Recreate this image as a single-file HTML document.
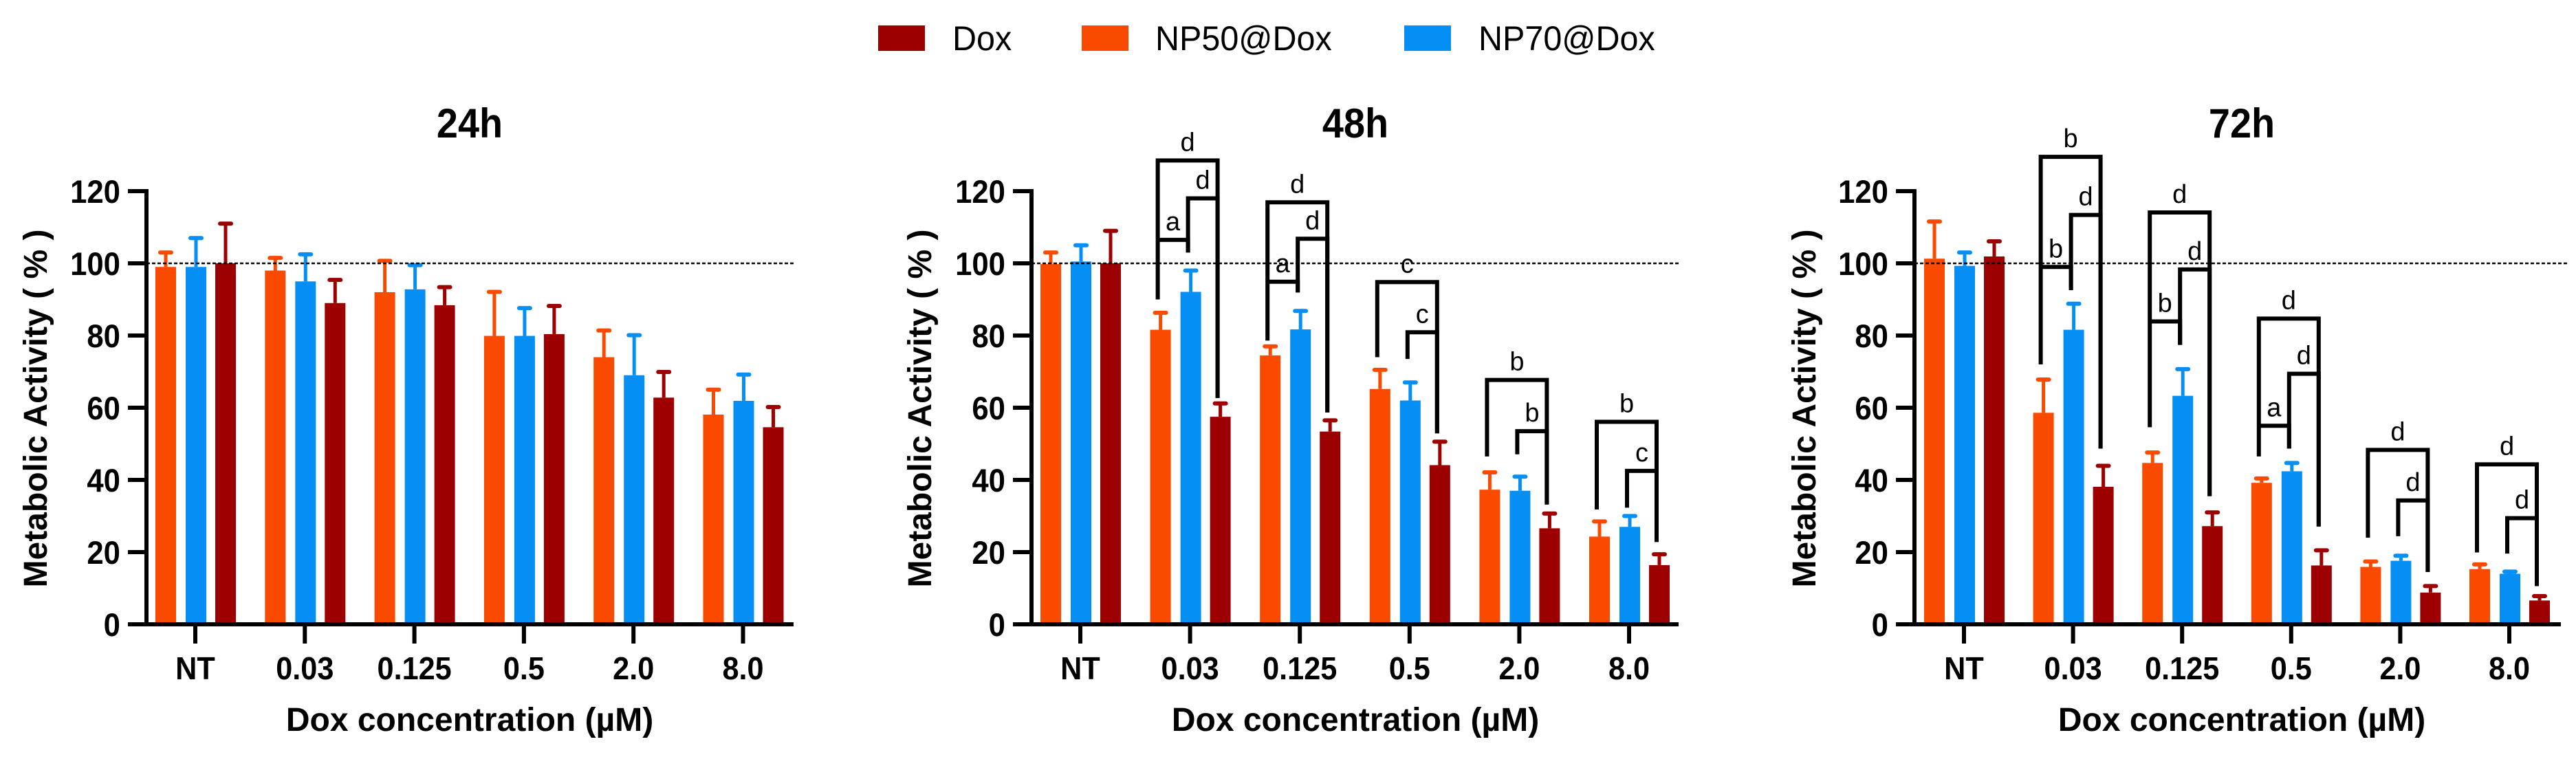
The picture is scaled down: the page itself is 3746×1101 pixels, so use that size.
<!DOCTYPE html>
<html><head><meta charset="utf-8"><style>
html,body{margin:0;padding:0;background:#fff}
svg{display:block}
text{font-family:"Liberation Sans",Arial,sans-serif}
</style></head><body>
<svg id="chart" width="3746" height="1101" viewBox="0 0 3746 1101" xmlns="http://www.w3.org/2000/svg"></svg>
<script>
const categories = ["NT","0.03","0.125","0.5","2.0","8.0"];
const yTicks = [0,20,40,60,80,100,120];
const seriesNames = ["NP50@Dox","NP70@Dox","Dox"];
const seriesColors = ["#F94A00","#058FF5","#9C0000"];

const h24_np50 = [99,98,92,79.9,74,58.1];
const h24_np50_sd = [4,3.5,8.7,12.2,7.4,6.9];
const h24_np70 = [99,95,92.8,79.9,69,61.9];
const h24_np70_sd = [8,7.5,6.7,7.7,11.1,7.3];
const h24_dox = [100,89,88.4,80.4,62.8,54.6];
const h24_dox_sd = [11,6.4,5,7.8,7.1,5.6];

const h48_np50 = [99.8,81.6,74.5,65.2,37.3,24.3];
const h48_np50_sd = [3.2,4.7,2.5,5.3,4.8,4.2];
const h48_np70 = [100.5,92.1,81.7,62,37,27];
const h48_np70_sd = [4.5,5.9,5.1,5,3.9,3];
const h48_dox = [100,57.5,53.4,44.1,26.6,16.4];
const h48_dox_sd = [9,3.7,3.1,6.5,4.1,3];

const h72_np50 = [101.3,58.6,44.7,39.2,15.9,15.3];
const h72_np50_sd = [10.3,9.2,2.9,1.2,1.5,1.3];
const h72_np70 = [99.3,81.6,63.3,42.4,17.6,14];
const h72_np70_sd = [3.7,7.2,7.4,2.3,1.4,0.6];
const h72_dox = [101.9,38.1,27.2,16.3,8.8,6.6];
const h72_dox_sd = [4.2,5.8,3.8,4.2,1.8,1.2];

// [category, fromSeries, toSeries, top, leftBottom, rightBottom, label]
const h48_brackets = [
 [1,0,2,128.5,90,62.7,"d"],[1,1,2,118,103,62.7,"d"],[1,0,1,106.5,106.5,103,"a"],
 [2,0,2,116.9,78.6,58.7,"d"],[2,1,2,106.8,91.9,58.7,"d"],[2,0,1,94.9,94.9,91.9,"a"],
 [3,0,2,94.8,74,52.9,"c"],[3,1,2,80.9,73.5,52.9,"c"],
 [4,0,2,67.7,46.5,33.2,"b"],[4,1,2,53.5,47.1,33.2,"b"],
 [5,0,2,56.1,31.8,22.8,"b"],[5,1,2,42.5,32.3,22.8,"c"]
];
const h72_brackets = [
 [1,0,2,129.5,72,48.7,"b"],[1,1,2,113.4,92.6,48.7,"d"],[1,0,1,99,99,92.6,"b"],
 [2,0,2,114.1,54.6,35.5,"d"],[2,1,2,98.3,77.4,35.5,"d"],[2,0,1,83.9,83.9,77.4,"b"],
 [3,0,2,84.7,46.5,27.1,"d"],[3,1,2,69.4,48.7,27.1,"d"],[3,0,1,55,55,48.7,"a"],
 [4,0,2,48.3,24,14.5,"d"],[4,1,2,34.3,24.4,14.5,"d"],
 [5,0,2,44.3,19.9,10.6,"d"],[5,1,2,29.4,19.6,10.6,"d"]
];

const svg = document.getElementById('chart');
const NS = 'http://www.w3.org/2000/svg';
function mk(tag, attrs, parent){
  const e = document.createElementNS(NS, tag);
  for (const k in attrs) e.setAttribute(k, attrs[k]);
  (parent||svg).appendChild(e);
  return e;
}
function txt(parent, x, y, s, size, weight, anchor, sx){
  const g = mk('g', {transform:`translate(${x},${y}) scale(${sx},1)`}, parent);
  const t = mk('text', {x:0, y:0, 'font-size':size, 'font-weight':weight, 'text-anchor':anchor, fill:'#000'}, g);
  t.textContent = s;
  return t;
}
const Y0 = 908, PXU = 5.25;
function yScale(v){ return Y0 - v*PXU; }

const panels = [
 {title:"24h", axisX:213, nt:284, step:159.3, xs:186, xe:1154, de:1154, tx:683, ytx:68,
  vals:[h24_np50,h24_np70,h24_dox], sds:[h24_np50_sd,h24_np70_sd,h24_dox_sd], br:[]},
 {title:"48h", axisX:1500, nt:1571, step:159.6, xs:1474, xe:2441, de:2441, tx:1971, ytx:1354,
  vals:[h48_np50,h48_np70,h48_dox], sds:[h48_np50_sd,h48_np70_sd,h48_dox_sd], br:h48_brackets},
 {title:"72h", axisX:2784, nt:2856, step:158.6, xs:2760, xe:3724, de:3736, tx:3260, ytx:2640,
  vals:[h72_np50,h72_np70,h72_dox], sds:[h72_np50_sd,h72_np70_sd,h72_dox_sd], br:h72_brackets}
];
const offsets = [-43, 1, 44];
const BW = 30;

panels.forEach((p, pi) => {
  const g = mk('g', {});
  
  
  const xc = i => p.nt + i*p.step;

  const t = txt(g, p.tx, 200, p.title, 60, 'bold', 'middle', 0.93);
  
  

  p.vals.forEach((arr, si) => {
    arr.forEach((v, i) => {
      const cx = xc(i) + offsets[si];
      const top = yScale(v + p.sds[si][i]);
      const el = mk('line', {x1:cx, x2:cx, y1:yScale(v), y2:top, stroke:seriesColors[si], 'stroke-width':5}, g);
      
      
      const cap = mk('line', {x1:cx-8, x2:cx+8, y1:top, y2:top, stroke:seriesColors[si], 'stroke-width':6, 'stroke-linecap':'round'}, g);
      
      
      const r = mk('rect', {x:cx-BW/2, y:yScale(v), width:BW, height:Y0-yScale(v), fill:seriesColors[si]}, g);
      
      
    });
  });

  const dl = mk('line', {x1:p.axisX, x2:p.de, y1:yScale(100), y2:yScale(100), stroke:'#000', 'stroke-width':2.5, 'stroke-dasharray':'5 3'}, g);
  
  

  const ya = mk('line', {x1:p.axisX, x2:p.axisX, y1:yScale(120)-3, y2:Y0+3, stroke:'#000', 'stroke-width':6}, g);
  
  
  const xa = mk('line', {x1:p.xs, x2:p.xe, y1:Y0, y2:Y0, stroke:'#000', 'stroke-width':6}, g);
  
  
  yTicks.forEach(v => {
    const tk = mk('line', {x1:p.axisX-27, x2:p.axisX, y1:yScale(v), y2:yScale(v), stroke:'#000', 'stroke-width':6}, g);
    
    
    const lb = txt(g, p.axisX-38, yScale(v)+17, String(v), 47, 'bold', 'end', 0.93);
    
    
  });
  categories.forEach((c, i) => {
    const tk = mk('line', {x1:xc(i), x2:xc(i), y1:Y0, y2:Y0+28, stroke:'#000', 'stroke-width':6}, g);
    
    
    const lb = txt(g, xc(i), 988, c, 46, 'bold', 'middle', 0.94);
    
    
  });
  const xt = txt(g, p.tx, 1063, "Dox concentration (µM)", 48, 'bold', 'middle', 1.0);
  
  
  const yg = mk('g', {transform:`translate(${p.ytx},594) rotate(-90)`}, g);
  const yt = mk('text', {x:0, y:0, 'font-size':48, 'font-weight':'bold', 'text-anchor':'middle', fill:'#000'}, yg);
  yt.textContent = "Metabolic Activity ( % )";
  
  

  p.br.forEach(b => {
    const [ci, fs, ts, top, lb, rb, lab] = b;
    const x1 = xc(ci) + offsets[fs] - 4, x2 = xc(ci) + offsets[ts] - 4;
    const pl = mk('polyline', {points:`${x1},${yScale(lb)} ${x1},${yScale(top)} ${x2},${yScale(top)} ${x2},${yScale(rb)}`,
      fill:'none', stroke:'#000', 'stroke-width':6}, g);
    
    
    const tl = txt(g, (x1+x2)/2, yScale(top)-14, lab, 38, 'normal', 'middle', 1.0);
    
    
  });
});

const legend = mk('g', {});


const legendItems = [[2, 1277, 1385], [0, 1573, 1680], [1, 2042, 2150]];
legendItems.forEach(it => {
  const [si, sx, tx] = it;
  const r = mk('rect', {x:sx, y:37, width:68, height:37, fill:seriesColors[si]}, legend);
  
  
  const t = txt(legend, tx, 73, seriesNames[si], 50, 'normal', 'start', 0.97);
  
  
});
</script>
</body></html>
